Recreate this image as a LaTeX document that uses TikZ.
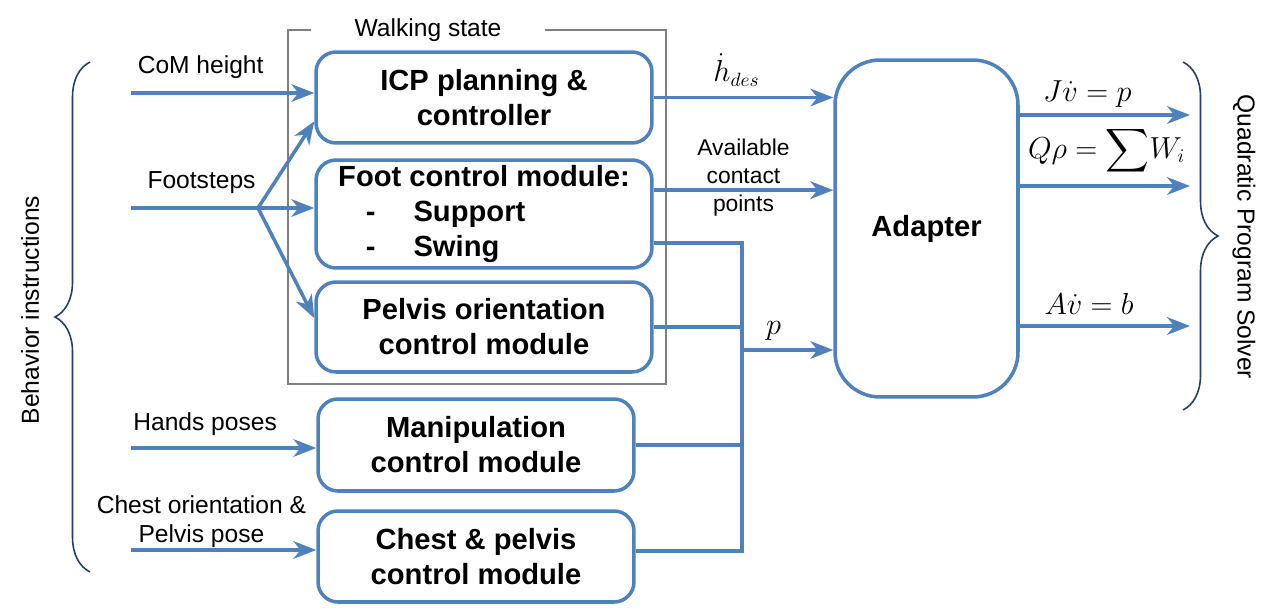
\documentclass[tikz,border=0pt]{standalone}
\usepackage{fontspec}
\setmainfont{Liberation Sans}
\usepackage{amsmath}
\usetikzlibrary{arrows.meta,decorations.pathreplacing}
\definecolor{lineblue}{RGB}{79,129,189}
\definecolor{bracenavy}{RGB}{38,60,105}
\definecolor{framegray}{RGB}{128,128,128}

\begin{document}
\begin{tikzpicture}[x=0.02cm, y=-0.02cm, >={Stealth[length=13pt,width=10pt,inset=4pt]},
    module/.style={draw=lineblue, line width=2pt, rounded corners=0.4cm, inner sep=0pt,
        align=center, font=\fontsize{16.6}{20}\selectfont\bfseries},
    flow/.style={draw=lineblue, line width=2pt},
    lbl/.style={font=\fontsize{14}{16.5}\selectfont, align=center},
    eq/.style={font=\fontsize{16}{19}\selectfont},
    brc/.style={draw=bracenavy, line width=0.9pt, decorate, decoration={brace, amplitude=0.7cm}}]
    \useasboundingbox (0,0) rectangle (1278,615);

    % modules
    \node (icp) [module, minimum width=6.72cm, minimum height=1.82cm] at (484,97.5) {ICP planning \&\\controller};
    \node (foot) [module, minimum width=6.72cm, minimum height=2.16cm, align=left] at (484,214)
        {Foot control module:\\\hspace*{0.95em}-\hspace{1.3em}Support\\\hspace*{0.95em}-\hspace{1.3em}Swing};
    \node (pelvis) [module, minimum width=6.72cm, minimum height=1.8cm] at (484,327) {Pelvis orientation\\control module};
    \node (manip) [module, minimum width=6.32cm, minimum height=1.84cm] at (476,445) {Manipulation\\control module};
    \node (chest) [module, minimum width=6.32cm, minimum height=1.82cm] at (476,556.5) {Chest \& pelvis\\control module};
    \node (adapter) [module, minimum width=3.66cm, minimum height=6.74cm, rounded corners=0.9cm] at (926.5,228.5) {Adapter};

    % walking state frame
    \node (walk) [lbl, inner xsep=0.86cm] at (428,30) {Walking state};
    \draw[framegray, line width=1.2pt] (walk.west) -| (288,384) -| (666,30) -- (walk.east);

    % inputs
    \coordinate (comIn) at (131,93);
    \coordinate (fsIn) at (131,208);
    \coordinate (fsSplit) at (258,208);
    \coordinate (handIn) at (131,448);
    \coordinate (chestIn) at (131,550);
    \draw[->, flow] (comIn) -- (icp.west |- comIn) node[lbl, pos=0.38, above=4pt] {CoM height};
    \draw[flow] (fsIn) -- (fsSplit) node[lbl, midway, above=4pt, xshift=4pt] {Footsteps};
    \draw[->, flow] (fsSplit) -- (foot.west |- fsSplit);
    \draw[->, flow] (fsSplit) -- (icp.188);
    \draw[->, flow] (fsSplit) -- (pelvis.177);
    \draw[->, flow] (handIn) -- (manip.west |- handIn) node[lbl, pos=0.4, above=3pt] {Hands poses};
    \draw[->, flow] (chestIn) -- (chest.west |- chestIn) node[lbl, pos=0.38, above=-3pt] {Chest orientation \&\\Pelvis pose};

    % to the adapter
    \draw[->, flow] (icp.east) -- (adapter.west |- icp.east) node[eq, midway, above=2pt, xshift=-4pt] {$\dot{h}_{des}$};
    \draw[->, flow] (foot.8) -- (adapter.west |- foot.8) node[midway, font=\fontsize{13}{15.8}\selectfont, align=center, yshift=7pt] {Available\\contact\\points};
    \coordinate (busTop) at (742,243);
    \coordinate (busBot) at (742,551);
    \coordinate (busOut) at (742,350);
    \draw[flow] (foot.east |- busTop) -- (busTop) -- (busBot) -- (chest.east |- busBot);
    \draw[flow] (pelvis.east) -- (busTop |- pelvis.east);
    \draw[flow] (manip.east) -- (busTop |- manip.east);
    \draw[->, flow] (busOut) -- (adapter.west |- busOut) node[eq, midway, above=1pt, xshift=-8pt] {$p$};

    % to the solver
    \coordinate (qp1) at (1190,115);
    \coordinate (qp2) at (1190,186);
    \coordinate (qp3) at (1190,326);
    \draw[->, flow] (adapter.east |- qp1) -- (qp1) node[eq, midway, above=0pt, xshift=-10pt] {$J\dot{v} = p$};
    \draw[->, flow] (adapter.east |- qp2) -- (qp2) node[eq, midway, above=2pt, xshift=1pt] {$Q\rho = \displaystyle\sum\!W_i$};
    \draw[->, flow] (adapter.east |- qp3) -- (qp3) node[eq, midway, above=2pt, xshift=-9pt] {$A\dot{v} = b$};

    % braces
    \coordinate (lbTop) at (90,62);
    \coordinate (lbBot) at (90,572);
    \coordinate (rbTop) at (1183,62);
    \coordinate (rbBot) at (1183,410);
    \draw[brc] (lbBot) -- (lbTop);
    \draw[brc] (rbTop) -- (rbBot);
    \node (behav) [lbl, rotate=90] at (30,310) {Behavior instructions};
    \node (solver) [lbl, rotate=-90] at (1244,237) {Quadratic Program Solver};
\end{tikzpicture}
\end{document}
